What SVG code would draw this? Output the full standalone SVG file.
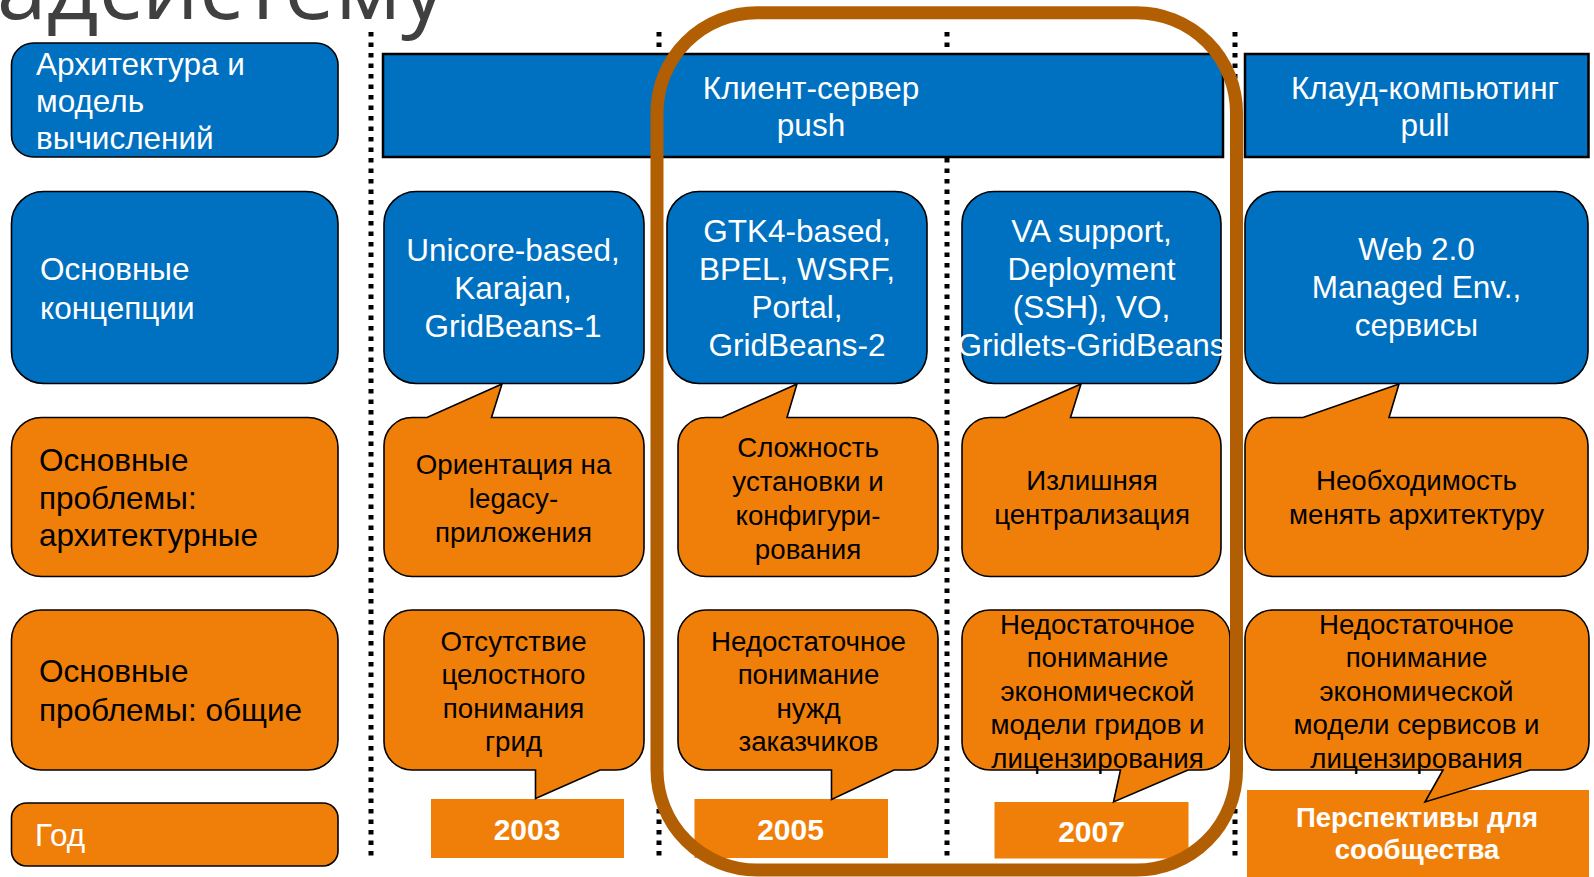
<svg xmlns="http://www.w3.org/2000/svg" width="1594" height="877" viewBox="0 0 1594 877">
  <style>
    text { font-family: "Liberation Sans", Arial, sans-serif; }
    .blue { fill: #0070C0; stroke: #000; stroke-width: 1.6; }
    .org { fill: #F07F09; stroke: #000; stroke-width: 1.6; }
    .band { fill: #0070C0; stroke: #000; stroke-width: 2.5; }
    .year { fill: #F07F09; }
    .w { fill: #fff; font-size: 31.5px; }
    .k { fill: #000; font-size: 31.5px; }
    .c { fill: #000; font-size: 27.7px; text-anchor: middle; }
    .m { text-anchor: middle; }
    .y { fill: #fff; font-size: 30px; font-weight: bold; text-anchor: middle; }
    .y2 { fill: #fff; font-size: 27.5px; font-weight: bold; text-anchor: middle; }
    .title { font-family: "Open Sans", "Noto Sans", sans-serif; font-size: 90px; fill: #404040; text-anchor: end; }
    .dots { stroke: #000; stroke-width: 5; stroke-dasharray: 4.5 6; fill: none; }
    .frame { fill: none; stroke: #B25F04; stroke-width: 13; }
  </style>

  <!-- title, partly cut by the top edge -->
  <text class="title" x="446" y="19">адсистему</text>

  <!-- period separators -->
  <g id="separators">
    <line class="dots" x1="371" y1="32" x2="371" y2="860"/>
    <line class="dots" x1="659" y1="32" x2="659" y2="860"/>
    <line class="dots" x1="947" y1="32" x2="947" y2="860"/>
    <line class="dots" x1="1235" y1="32" x2="1235" y2="860"/>
  </g>

  <!-- row labels -->
  <g id="label-arch">
    <rect class="blue" x="11.5" y="43" width="326.5" height="114" rx="22"/>
    <text class="w" x="36" y="75">Архитектура и</text>
    <text class="w" x="36" y="112">модель</text>
    <text class="w" x="36" y="149">вычислений</text>
  </g>
  <g id="label-concepts">
    <rect class="blue" x="11.5" y="191.5" width="326.5" height="192" rx="32"/>
    <text class="w" x="40" y="280">Основные</text>
    <text class="w" x="40" y="318.5">концепции</text>
  </g>
  <g id="label-arch-problems">
    <rect class="org" x="11.5" y="417.5" width="326.5" height="159" rx="30"/>
    <text class="k" x="39" y="471">Основные</text>
    <text class="k" x="39" y="508.5">проблемы:</text>
    <text class="k" x="39" y="546">архитектурные</text>
  </g>
  <g id="label-common-problems">
    <rect class="org" x="11.5" y="610" width="326.5" height="160" rx="30"/>
    <text class="k" x="39" y="682">Основные</text>
    <text class="k" x="39" y="720.5">проблемы: общие</text>
  </g>
  <g id="label-year">
    <rect class="org" x="11.5" y="803" width="326.5" height="63" rx="15"/>
    <text class="w" x="35" y="846">Год</text>
  </g>

  <!-- computing model bands -->
  <g id="band-client-server">
    <rect class="band" x="383" y="54" width="840" height="103"/>
    <text class="w m" x="811" y="98.5">Клиент-сервер</text>
    <text class="w m" x="811" y="136">push</text>
  </g>
  <g id="band-cloud">
    <rect class="band" x="1245" y="54" width="343.5" height="103"/>
    <text class="w m" x="1425" y="98.5">Клауд-компьютинг</text>
    <text class="w m" x="1425" y="136">pull</text>
  </g>

  <!-- key concepts -->
  <g id="concept-2003">
    <rect class="blue" x="384" y="191.5" width="260" height="192" rx="32"/>
    <text class="w m" x="513" y="261">Unicore-based,</text>
    <text class="w m" x="513" y="299">Karajan,</text>
    <text class="w m" x="513" y="337">GridBeans-1</text>
  </g>
  <g id="concept-2005">
    <rect class="blue" x="667" y="191.5" width="260" height="192" rx="32"/>
    <text class="w m" x="797" y="242">GTK4-based,</text>
    <text class="w m" x="797" y="280">BPEL, WSRF,</text>
    <text class="w m" x="797" y="318">Portal,</text>
    <text class="w m" x="797" y="356">GridBeans-2</text>
  </g>
  <g id="concept-2007">
    <rect class="blue" x="962" y="191.5" width="259" height="192" rx="32"/>
    <text class="w m" x="1091.5" y="242">VA support,</text>
    <text class="w m" x="1091.5" y="280">Deployment</text>
    <text class="w m" x="1091.5" y="318">(SSH), VO,</text>
    <text class="w m" x="1091.5" y="356">Gridlets-GridBeans</text>
  </g>
  <g id="concept-future">
    <rect class="blue" x="1245" y="191.5" width="343" height="192" rx="32"/>
    <text class="w m" x="1416.5" y="260">Web 2.0</text>
    <text class="w m" x="1416.5" y="298">Managed Env.,</text>
    <text class="w m" x="1416.5" y="336">сервисы</text>
  </g>

  <!-- architectural problems (callouts pointing up) -->
  <g id="arch-2003">
    <path class="org" d="M412,417.5 L427,417.5 L502,384 L491.5,417.5 L616,417.5 A28,28 0 0 1 644,445.5 L644,548.5 A28,28 0 0 1 616,576.5 L412,576.5 A28,28 0 0 1 384,548.5 L384,445.5 A28,28 0 0 1 412,417.5 Z"/>
    <text class="c" x="513.5" y="473.5">Ориентация на</text>
    <text class="c" x="513.5" y="508">legacy-</text>
    <text class="c" x="513.5" y="542">приложения</text>
  </g>
  <g id="arch-2005">
    <path class="org" d="M706,417.5 L722,417.5 L797,384 L787,417.5 L910,417.5 A28,28 0 0 1 938,445.5 L938,548.5 A28,28 0 0 1 910,576.5 L706,576.5 A28,28 0 0 1 678,548.5 L678,445.5 A28,28 0 0 1 706,417.5 Z"/>
    <text class="c" x="808" y="457">Сложность</text>
    <text class="c" x="808" y="491">установки и</text>
    <text class="c" x="808" y="525">конфигури-</text>
    <text class="c" x="808" y="559">рования</text>
  </g>
  <g id="arch-2007">
    <path class="org" d="M990,417.5 L1005,417.5 L1081,384 L1070.5,417.5 L1193,417.5 A28,28 0 0 1 1221,445.5 L1221,548.5 A28,28 0 0 1 1193,576.5 L990,576.5 A28,28 0 0 1 962,548.5 L962,445.5 A28,28 0 0 1 990,417.5 Z"/>
    <text class="c" x="1092" y="490">Излишняя</text>
    <text class="c" x="1092" y="524">централизация</text>
  </g>
  <g id="arch-future">
    <path class="org" d="M1273,417.5 L1303,417.5 L1399,384 L1389,417.5 L1560,417.5 A28,28 0 0 1 1588,445.5 L1588,548.5 A28,28 0 0 1 1560,576.5 L1273,576.5 A28,28 0 0 1 1245,548.5 L1245,445.5 A28,28 0 0 1 1273,417.5 Z"/>
    <text class="c" x="1416.5" y="490">Необходимость</text>
    <text class="c" x="1416.5" y="524">менять архитектуру</text>
  </g>

  <!-- year / outlook boxes -->
  <g id="year-2003">
    <rect class="year" x="431" y="799" width="193" height="59"/>
    <text class="y" x="527" y="840">2003</text>
  </g>
  <g id="year-2005">
    <rect class="year" x="694.5" y="799" width="193.5" height="59"/>
    <text class="y" x="790.5" y="840">2005</text>
  </g>
  <g id="year-2007">
    <rect class="year" x="994.5" y="802" width="194" height="56.5"/>
    <text class="y" x="1091.5" y="842">2007</text>
  </g>
  <g id="year-future">
    <rect class="year" x="1247" y="790" width="342" height="87"/>
    <text class="y2" x="1417" y="827">Перспективы для</text>
    <text class="y2" x="1417" y="859">сообщества</text>
  </g>

  <!-- common problems (callouts pointing down) -->
  <g id="common-2003">
    <path class="org" d="M412,610 L616,610 A28,28 0 0 1 644,638 L644,742 A28,28 0 0 1 616,770 L600,770 L535.5,798.5 L535.5,770 L412,770 A28,28 0 0 1 384,742 L384,638 A28,28 0 0 1 412,610 Z"/>
    <text class="c" x="513.5" y="650.5">Отсутствие</text>
    <text class="c" x="513.5" y="684">целостного</text>
    <text class="c" x="513.5" y="717.5">понимания</text>
    <text class="c" x="513.5" y="751">грид</text>
  </g>
  <g id="common-2005">
    <path class="org" d="M706,610 L910,610 A28,28 0 0 1 938,638 L938,742 A28,28 0 0 1 910,770 L894,770 L831.5,799.5 L831.5,770 L706,770 A28,28 0 0 1 678,742 L678,638 A28,28 0 0 1 706,610 Z"/>
    <text class="c" x="808.5" y="650.5">Недостаточное</text>
    <text class="c" x="808.5" y="684">понимание</text>
    <text class="c" x="808.5" y="717.5">нужд</text>
    <text class="c" x="808.5" y="751">заказчиков</text>
  </g>
  <g id="common-2007">
    <path class="org" d="M990,610 L1202,610 A28,28 0 0 1 1230,638 L1230,742 A28,28 0 0 1 1202,770 L1188,770 L1113.5,802 L1120.5,770 L990,770 A28,28 0 0 1 962,742 L962,638 A28,28 0 0 1 990,610 Z"/>
    <text class="c" x="1097.5" y="633.5">Недостаточное</text>
    <text class="c" x="1097.5" y="667">понимание</text>
    <text class="c" x="1097.5" y="700.5">экономической</text>
    <text class="c" x="1097.5" y="734">модели гридов и</text>
    <text class="c" x="1097.5" y="767.5">лицензирования</text>
  </g>
  <g id="common-future">
    <path class="org" d="M1273,610 L1561,610 A28,28 0 0 1 1589,638 L1589,742 A28,28 0 0 1 1561,770 L1530,770 L1425,802 L1443,770 L1273,770 A28,28 0 0 1 1245,742 L1245,638 A28,28 0 0 1 1273,610 Z"/>
    <text class="c" x="1416.5" y="633.5">Недостаточное</text>
    <text class="c" x="1416.5" y="667">понимание</text>
    <text class="c" x="1416.5" y="700.5">экономической</text>
    <text class="c" x="1416.5" y="734">модели сервисов и</text>
    <text class="c" x="1416.5" y="767.5">лицензирования</text>
  </g>

  <!-- highlight frame around 2005–2007 -->
  <g id="highlight">
    <rect class="frame" x="657" y="12.7" width="579.5" height="857.3" rx="100" ry="100"/>
  </g>
</svg>
